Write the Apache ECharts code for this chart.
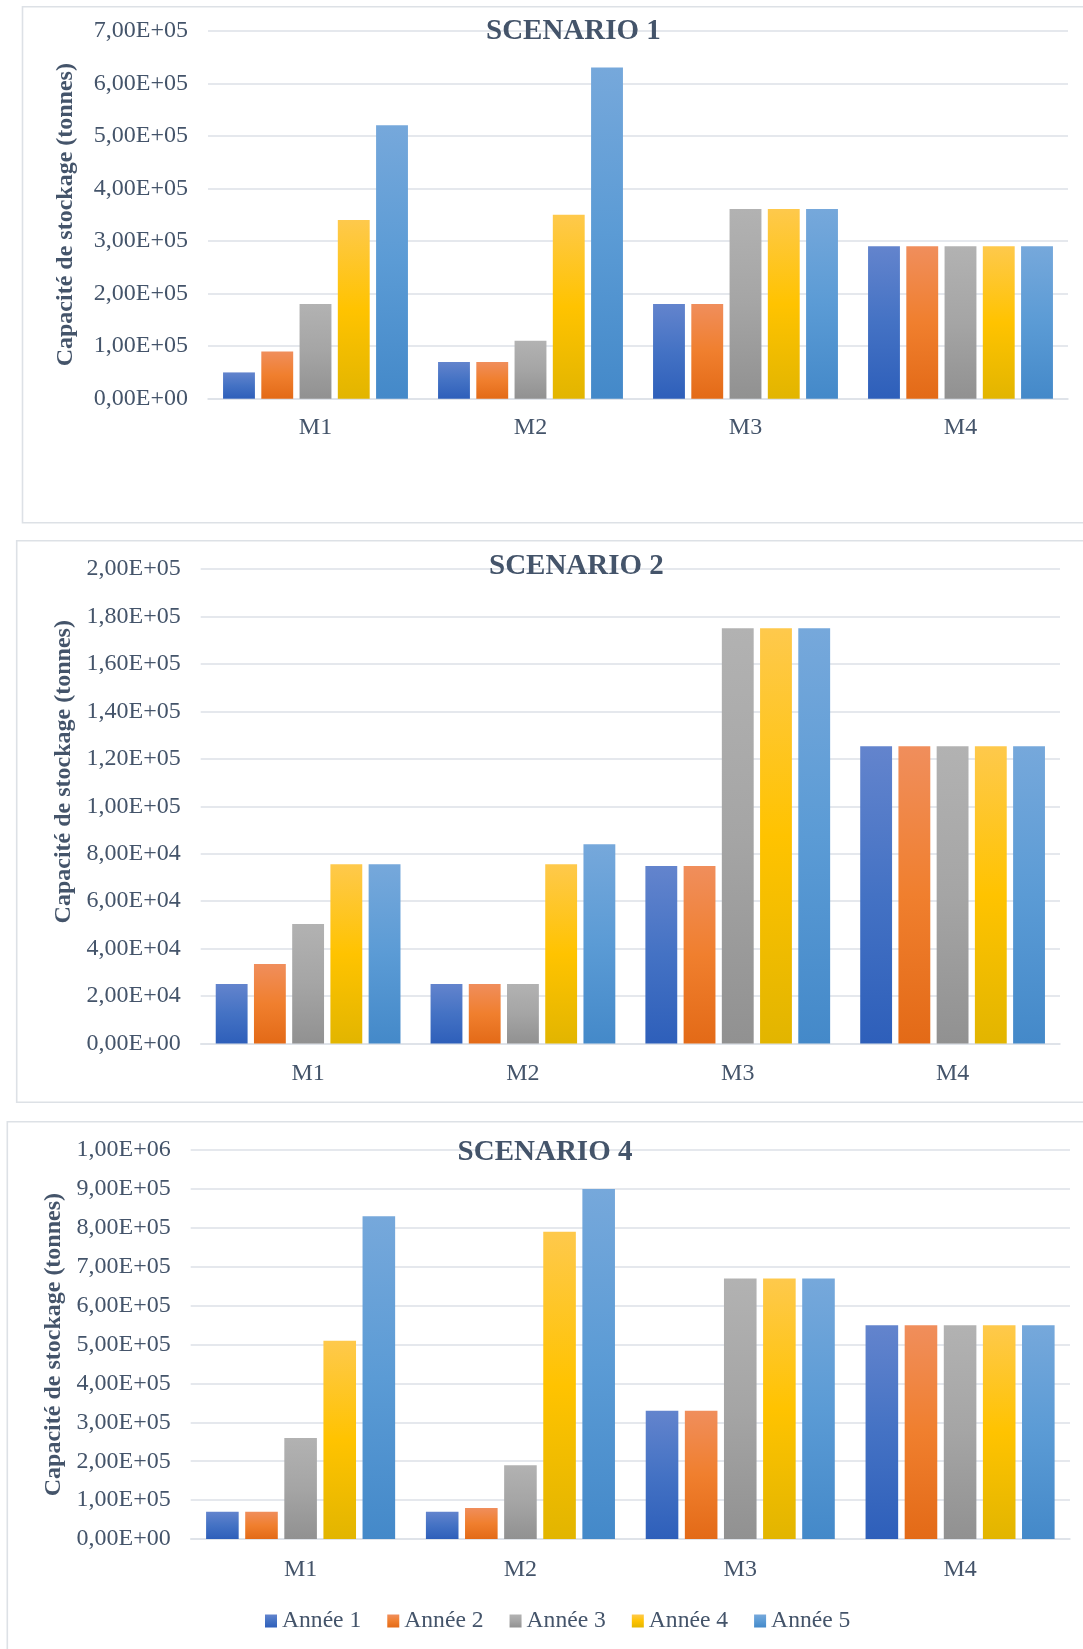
<!DOCTYPE html>
<html>
<head>
<meta charset="utf-8">
<script src="https://cdn.jsdelivr.net/npm/echarts@6/dist/echarts.min.js"></script>
<style>
  html, body { margin: 0; padding: 0; background: #ffffff; }
  #chart { width: 1083px; height: 1649px; }
</style>
</head>
<body>
<div id="chart"></div>
<script>
// Storage capacity per method (M1..M4) over five years, for three scenarios.
const methods = ['M1', 'M2', 'M3', 'M4'];
const years = ['Année 1', 'Année 2', 'Année 3', 'Année 4', 'Année 5'];
const scenarioTitles = ['SCENARIO 1', 'SCENARIO 2', 'SCENARIO 4'];
const axisTitle = 'Capacité de stockage (tonnes)';

// One row per year, one value per method (tonnes)
const scenario1 = [
  [50000, 70000, 180000, 290000],
  [90000, 70000, 180000, 290000],
  [180000, 110000, 361000, 290000],
  [340000, 350000, 361000, 290000],
  [520000, 630000, 361000, 290000]
];
const scenario2 = [
  [25100, 25100, 74800, 125300],
  [33500, 25100, 74800, 125300],
  [50400, 25100, 175000, 125300],
  [75600, 75600, 175000, 125300],
  [75600, 84000, 175000, 125300]
];
const scenario4 = [
  [70000, 70000, 330000, 550000],
  [70000, 80000, 330000, 550000],
  [260000, 190000, 670000, 550000],
  [510000, 790000, 670000, 550000],
  [830000, 900000, 670000, 550000]
];

// Value axis range and tick step for each scenario
const axisMax = [700000, 200000, 1000000];
const axisStep = [100000, 20000, 100000];

const scenarios = [scenario1, scenario2, scenario4];

// Office-style vertical gradients (top, middle, bottom)
const yearGradients = [
  ['#6384cd', '#4472c4', '#2e5fba'],
  ['#f08e5c', '#f07f2e', '#e36a17'],
  ['#b2b2b2', '#a5a5a5', '#919191'],
  ['#fec94c', '#ffc300', '#e2b500'],
  ['#76a8db', '#5b9bd5', '#4489c9']
];

const FONT = '"Liberation Serif", "Times New Roman", serif';
const TEXT = '#44546a';
const GRID_LINE = '#dde1e7';

function gradient(stops) {
  return {
    type: 'linear', x: 0, y: 0, x2: 0, y2: 1,
    colorStops: [
      { offset: 0, color: stops[0] },
      { offset: 0.5, color: stops[1] },
      { offset: 1, color: stops[2] }
    ]
  };
}

// 7,00E+05 style labels
function sciLabel(v) {
  if (v === 0) return '0,00E+00';
  const e = Math.floor(Math.log10(v) + 1e-9);
  const m = v / Math.pow(10, e);
  return m.toFixed(2).replace('.', ',') + 'E+' + String(e).padStart(2, '0');
}

// Panel geometry
const panels = [
  { left: 208, right: 15, top: 30.7, height: 368, labelMargin: 17, nameGap: 130, namePad: 0,
    titleLeft: 486, titleTop: 17, frame: { x: 22.5, y: 6.7, w: 1080, h: 516 } },
  { left: 200.7, right: 23, top: 569, height: 474.5, labelMargin: 18, nameGap: 124, namePad: 69,
    titleLeft: 489, titleTop: 552, frame: { x: 16.7, y: 540.7, w: 1080, h: 561.6 } },
  { left: 190.7, right: 13, top: 1150.2, height: 388.8, labelMargin: 19, nameGap: 124, namePad: 0,
    titleLeft: 457.6, titleTop: 1138, frame: { x: 7.3, y: 1121.7, w: 1090, h: 560 } }
];

const grids = [], xAxes = [], yAxes = [], titles = [], series = [], frames = [];

panels.forEach((p, i) => {
  grids.push({ left: p.left, right: p.right, top: p.top, height: p.height, containLabel: false });

  xAxes.push({
    type: 'category', gridIndex: i, data: methods,
    axisLine: { show: true, lineStyle: { color: GRID_LINE, width: 1.6 } },
    axisTick: { show: false },
    axisLabel: { color: TEXT, fontFamily: FONT, fontSize: 24, margin: p.labelMargin, lineHeight: 24 }
  });

  yAxes.push({
    type: 'value', gridIndex: i, min: 0, max: axisMax[i], interval: axisStep[i],
    name: axisTitle, nameLocation: 'middle', nameRotate: 90, nameGap: p.nameGap,
    nameTextStyle: {
      color: TEXT, fontFamily: FONT, fontSize: 24, fontWeight: 'bold',
      padding: [0, 0, 0, p.namePad]
    },
    axisLine: { show: false },
    axisTick: { show: false },
    axisLabel: { color: TEXT, fontFamily: FONT, fontSize: 24, margin: 20, formatter: sciLabel },
    splitLine: { show: true, lineStyle: { color: GRID_LINE, width: 1.6 } }
  });

  titles.push({
    text: scenarioTitles[i], left: p.titleLeft, top: p.titleTop, padding: 0,
    textStyle: { color: TEXT, fontFamily: FONT, fontSize: 29, fontWeight: 'bold', lineHeight: 30 }
  });

  scenarios[i].forEach((row, k) => {
    series.push({
      type: 'bar', name: years[k], xAxisIndex: i, yAxisIndex: i,
      data: row, barGap: '20%', barCategoryGap: '14%',
      itemStyle: { color: gradient(yearGradients[k]) },
      emphasis: { disabled: true }
    });
  });

  frames.push({
    type: 'rect', silent: true, z: -1,
    shape: { x: p.frame.x, y: p.frame.y, width: p.frame.w, height: p.frame.h },
    style: { fill: 'none', stroke: '#dde1e6', lineWidth: 1.6 }
  });
});

const chart = echarts.init(document.getElementById('chart'), null, { renderer: 'canvas' });
chart.setOption({
  animation: false,
  backgroundColor: '#ffffff',
  title: titles,
  legend: {
    data: years, left: 265, top: 1609, padding: 0,
    icon: 'rect', itemWidth: 12, itemHeight: 13, itemGap: 26,
    textStyle: { color: TEXT, fontFamily: FONT, fontSize: 23.6, lineHeight: 24 }
  },
  graphic: frames,
  grid: grids,
  xAxis: xAxes,
  yAxis: yAxes,
  series: series
});
</script>
</body>
</html>
